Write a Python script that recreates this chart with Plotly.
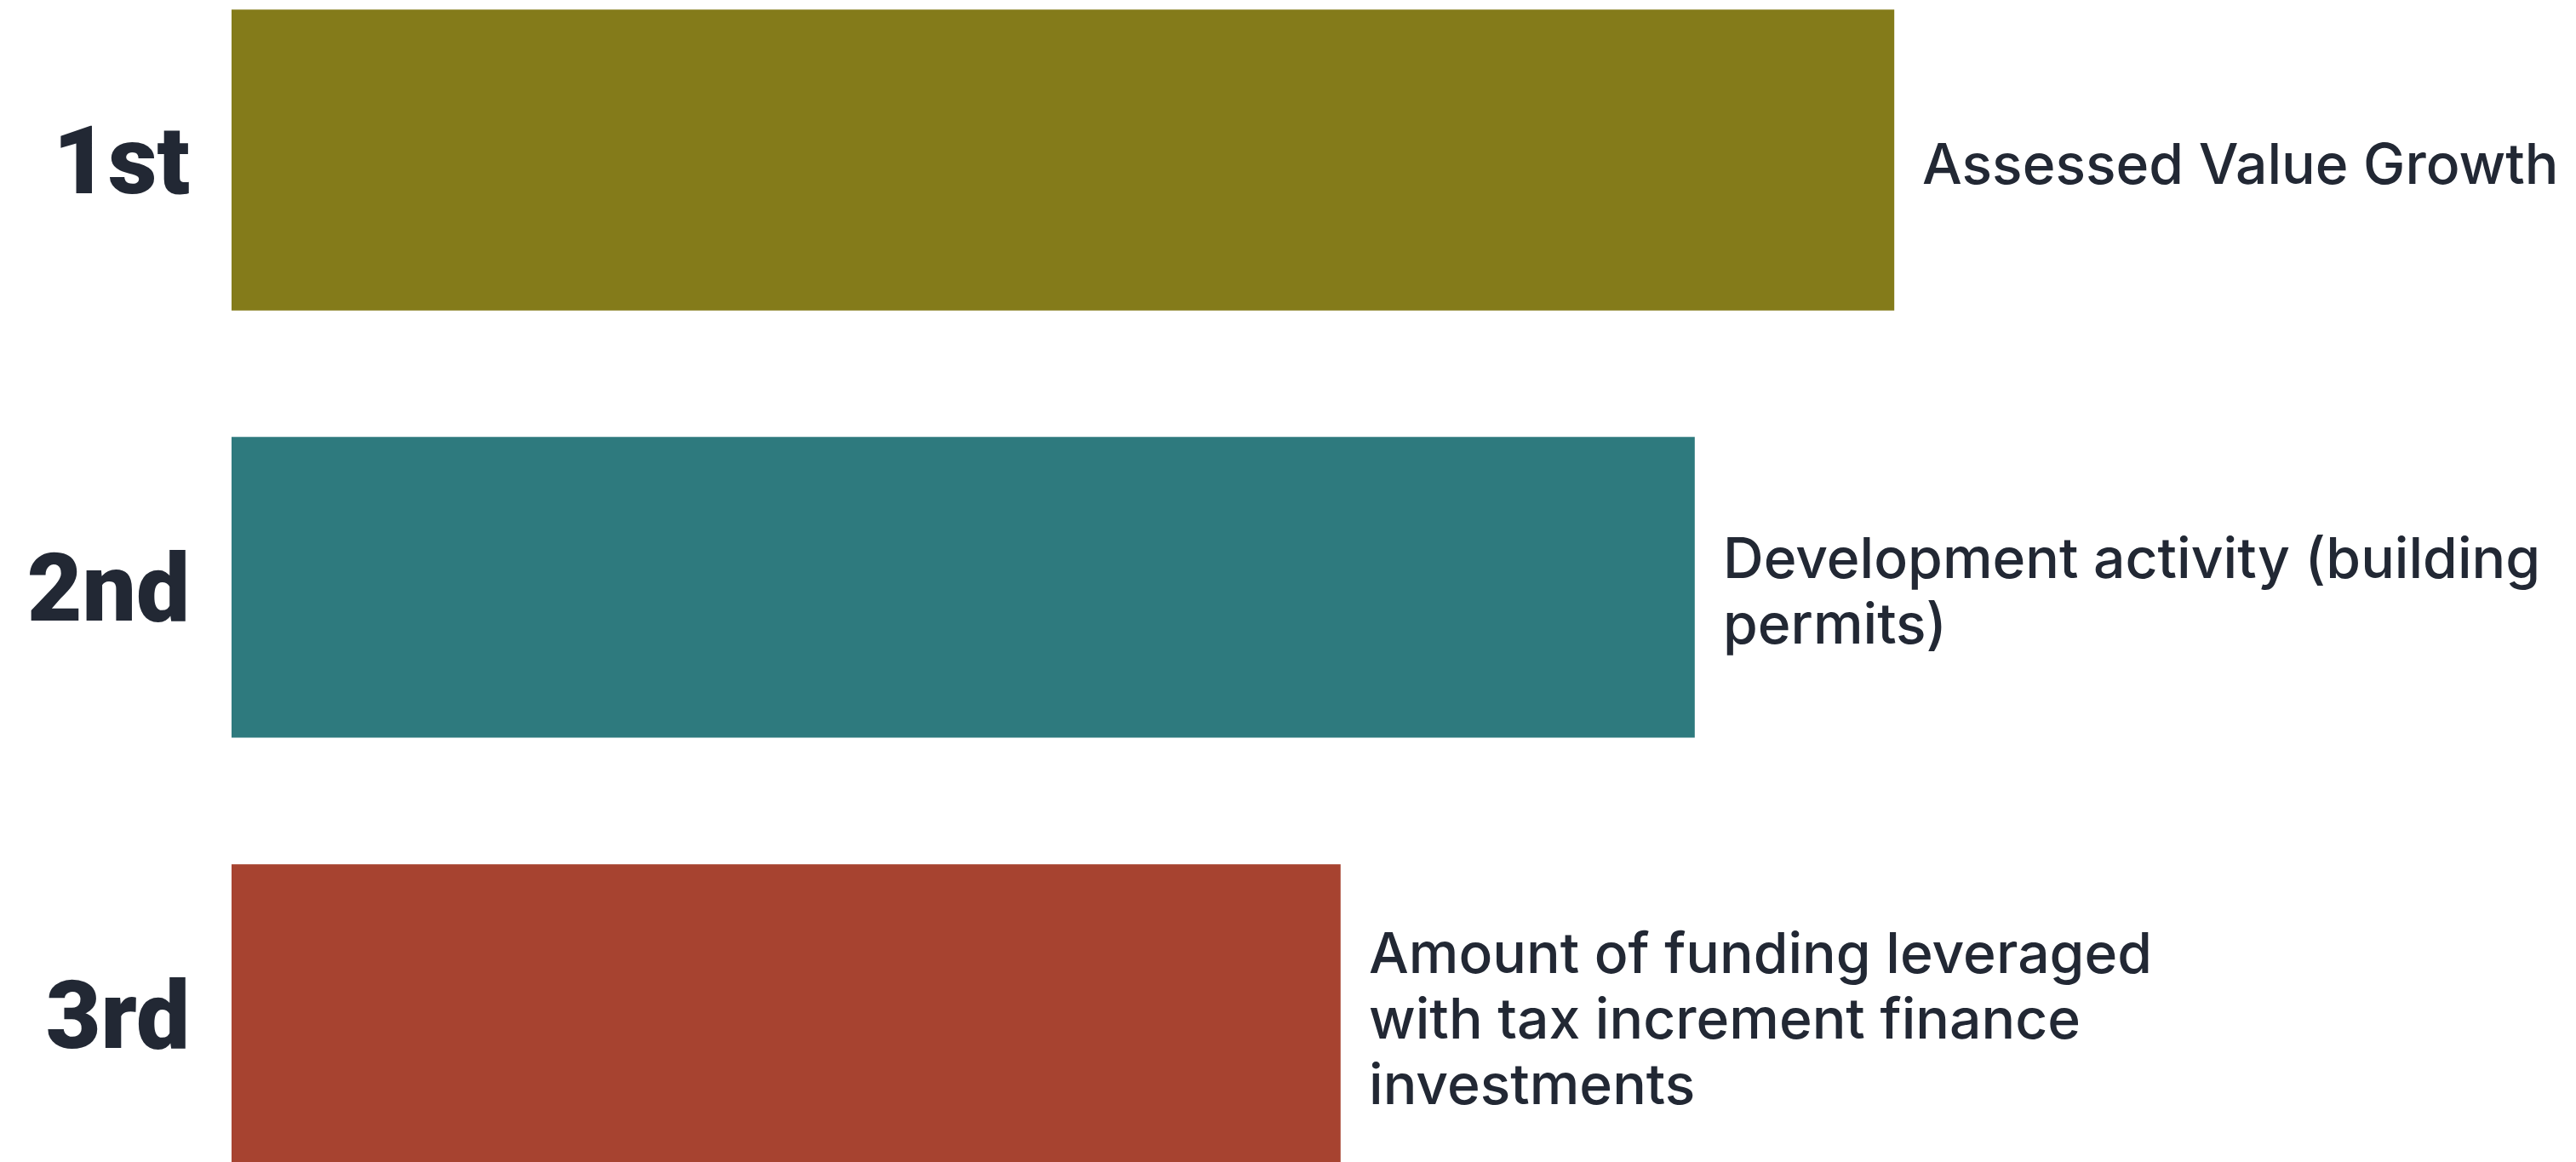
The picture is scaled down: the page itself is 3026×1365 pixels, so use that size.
import plotly.graph_objects as go

# Ranked drivers, top to bottom
ranks = ["1st", "2nd", "3rd"]
drivers = [
    ["Assessed Value Growth"],
    ["Development activity (building", "permits)"],
    ["Amount of funding leveraged", "with tax increment finance", "investments"],
]
scores = [100, 88, 66.7]
bar_colors = ["#847b1a", "#2e7a7e", "#a74330"]

INK = "#222834"
LINE_H = 77  # px between label lines

fig = go.Figure(
    go.Bar(
        x=scores,
        y=ranks,
        orientation="h",
        width=0.704,
        marker=dict(color=bar_colors, line=dict(width=0)),
        hoverinfo="skip",
    )
)

# Driver names sit just past the end of each bar, left-aligned,
# with the block of lines centred on the bar
for rank, score, lines in zip(ranks, scores, drivers):
    mid = (len(lines) - 1) / 2
    for i, line in enumerate(lines):
        fig.add_annotation(
            x=score,
            y=rank,
            text=line,
            showarrow=False,
            xanchor="left",
            yanchor="middle",
            align="left",
            xshift=31,
            yshift=(mid - i) * LINE_H - 4,
            font=dict(family="Inter, Roboto, sans-serif", size=66, color=INK, weight=500),
        )

fig.update_layout(
    width=3026,
    height=1365,
    margin=dict(l=272, r=0, t=0, b=0),
    paper_bgcolor="white",
    plot_bgcolor="white",
    showlegend=False,
    bargap=0.296,
)
fig.update_xaxes(
    range=[0, 141],
    visible=False,
    showgrid=False,
    zeroline=False,
)
fig.update_yaxes(
    categoryorder="array",
    categoryarray=ranks,
    range=[2.345, -0.3745],
    showgrid=False,
    zeroline=False,
    showline=False,
    ticks="",
    ticklabelstandoff=48,
    tickfont=dict(family="Roboto, sans-serif", size=112, color=INK, weight=900),
)

fig.write_html("out.html")
